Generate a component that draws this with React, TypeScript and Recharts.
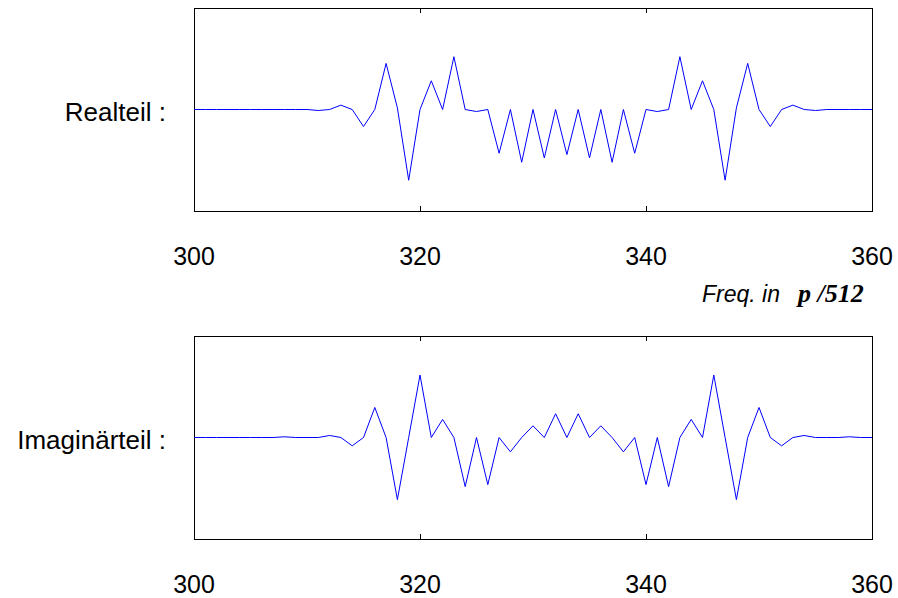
import React from 'react';
import { LineChart, Line, XAxis, YAxis, ReferenceArea, ReferenceLine } from 'recharts';

// frequency grid 300..360 (one sample per bin)
const freqs = Array.from({ length: 61 }, (_, i) => 300 + i);

const realPart = [
  0, 0, 0, 0, 0, 0, 0, 0, 0, 0, 0, // 300-310
  -0.01, 0, 0.043, 0, -0.168, 0, 0.454, 0.016, -0.697, 0, // 311-320
  0.283, 0, 0.52, 0, -0.02, 0, -0.431, 0, -0.52, 0, // 321-330
  -0.477, 0, -0.444, 0, -0.477, 0, -0.52, 0, -0.431, 0, // 331-340
  -0.02, 0, 0.52, 0, 0.283, 0, -0.697, 0.016, 0.454, 0, // 341-350
  -0.168, 0, 0.043, 0, -0.01, 0, 0, 0, 0, 0, // 351-360
];

const imagPart = [
  0, 0, 0, 0, 0, 0, 0, 0, 0.007, 0, 0, // 300-310
  0, 0.02, 0, -0.082, 0, 0.296, 0, -0.612, 0, 0.615, // 311-320
  0, 0.178, 0, -0.484, 0, -0.464, 0, -0.141, 0, 0.115, // 321-330
  0, 0.234, 0, 0.234, 0, 0.115, 0, -0.141, 0, -0.464, // 331-340
  0, -0.484, 0, 0.178, 0, 0.615, 0, -0.612, 0, 0.296, // 341-350
  0, -0.082, 0, 0.02, 0, 0, 0, 0.007, 0, 0, // 351-360
];

const xTicks = [300, 320, 340, 360];
const innerTicks = [320, 340];
const tickLen = 0.05; // inward tick length in y units

const sans = '"Liberation Sans", Arial, Helvetica, sans-serif';
const serif = '"Liberation Serif", "Times New Roman", serif';

const toRows = (vals: number[]) => freqs.map((f, i) => ({ f, v: vals[i] }));

const Panel = ({ data, marginTop }: { data: { f: number; v: number }[]; marginTop: number }) => (
  <LineChart
    width={898}
    height={marginTop + 203 + 60}
    data={data}
    margin={{ top: marginTop, right: 26, left: 194, bottom: 0 }}
  >
    <XAxis
      dataKey="f"
      type="number"
      domain={[300, 360]}
      ticks={xTicks}
      height={60}
      axisLine={false}
      tickLine={false}
      tickSize={0}
      tickMargin={36}
      tick={{ fill: '#000', fontSize: 25, fontFamily: sans }}
    />
    <YAxis domain={[-1, 1]} hide />
    <ReferenceArea
      x1={300}
      x2={360}
      y1={-1}
      y2={1}
      fill="none"
      fillOpacity={0}
      stroke="#000"
      strokeWidth={1}
      shapeRendering="crispEdges"
    />
    {innerTicks.map((t) => (
      <ReferenceLine
        key={`b${t}`}
        segment={[{ x: t, y: -1 }, { x: t, y: -1 + tickLen }]}
        stroke="#000"
        shapeRendering="crispEdges"
      />
    ))}
    {innerTicks.map((t) => (
      <ReferenceLine
        key={`t${t}`}
        segment={[{ x: t, y: 1 }, { x: t, y: 1 - tickLen }]}
        stroke="#000"
        shapeRendering="crispEdges"
      />
    ))}
    <Line
      type="linear"
      dataKey="v"
      stroke="#0000ff"
      strokeWidth={1}
      dot={false}
      isAnimationActive={false}
    />
  </LineChart>
);

export default function App() {
  return (
    <div style={{ position: 'absolute', left: 0, top: 0, width: 898, height: 598, background: '#fff' }}>
      <div style={{ position: 'absolute', left: 0, top: 0 }}>
        <Panel data={toRows(realPart)} marginTop={8} />
      </div>
      <div style={{ position: 'absolute', left: 0, top: 320 }}>
        <Panel data={toRows(imagPart)} marginTop={16} />
      </div>
      <svg
        width={898}
        height={598}
        style={{ position: 'absolute', left: 0, top: 0, pointerEvents: 'none' }}
      >
        <text x={166} y={121} textAnchor="end" fontSize={26} fontFamily={sans} fill="#000">
          Realteil :
        </text>
        <text x={166} y={449} textAnchor="end" fontSize={26} fontFamily={sans} fill="#000">
          Imaginärteil :
        </text>
        <text x={702} y={302} fontSize={23} fontFamily={sans} fontStyle="italic" fill="#000">
          Freq. in
        </text>
        <text x={798} y={302} fontSize={26} fontFamily={serif} fontStyle="italic" fontWeight="bold" fill="#000">
          p /512
        </text>
      </svg>
    </div>
  );
}
